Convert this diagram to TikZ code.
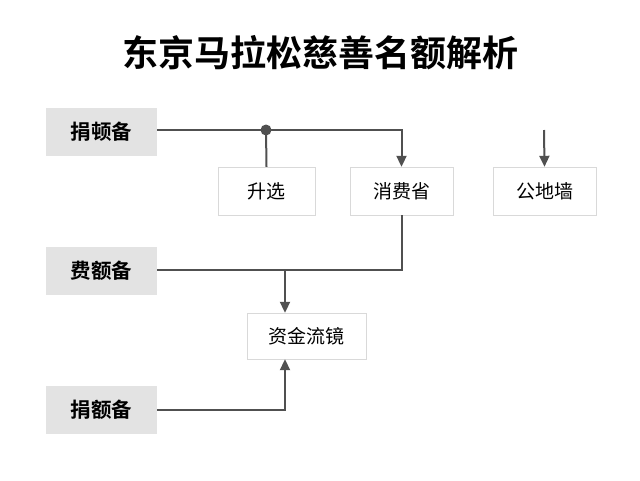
\documentclass[tikz,border=0pt]{standalone}
\usepackage{fontspec}
\newfontfamily\cjk{Noto Sans CJK SC}
\newfontfamily\cjkb{Noto Sans CJK SC Bold}
\usetikzlibrary{arrows.meta}
\definecolor{lineg}{HTML}{505050}
\definecolor{boxg}{HTML}{E3E3E3}
\tikzset{
  src/.style={fill=boxg,minimum width=111pt,minimum height=48pt,font=\cjkb\fontsize{20.5}{24}\selectfont},
  blk/.style={draw=black!15,fill=white,minimum height=48pt,font=\cjk\fontsize{19}{22}\selectfont},
  lnk/.style={draw=lineg,line width=2pt},
  arr/.style={lnk,-{Triangle[length=11pt,width=10pt]}}
}
\begin{document}
\begin{tikzpicture}[x=1pt,y=-1pt]
	\useasboundingbox (0,0) rectangle (640,480);
	\node[font=\cjkb\fontsize{36}{40}\selectfont] (title) at (320,53) {东京马拉松慈善名额解析};

	\node[src] (d1) at (101.5,132) {捐顿备};
	\node[src] (d2) at (101.5,270.5) {费额备};
	\node[src] (d3) at (101.5,409.5) {捐额备};

	\node[blk,minimum width=97pt] (up) at (266.5,191) {升选};
	\node[blk,minimum width=103pt] (xs) at (401.5,191) {消费省};
	\node[blk,minimum width=103pt] (gd) at (544.5,191) {公地墙};
	\node[blk,minimum width=119pt,minimum height=46pt] (zj) at (306.5,336) {资金流镜};

	\coordinate (j1) at (266,130);
	\coordinate (j2) at (285,270);
	\coordinate (j3) at (285,410);
	\coordinate (g0) at (544,130);

	\draw[arr] (d1.east |- j1) -| (xs.north);
	\draw[lnk] (j1) -- (up.north);
	\fill[lineg] (j1) circle (5.5pt);
	\draw[arr] (g0) -- (gd.north);
	\draw[lnk] (xs.south) |- (d2.east |- j2);
	\draw[arr] (j2) -- (j2 |- zj.north);
	\draw[arr] (d3.east |- j3) -| (j3 |- zj.south);
\end{tikzpicture}
\end{document}
